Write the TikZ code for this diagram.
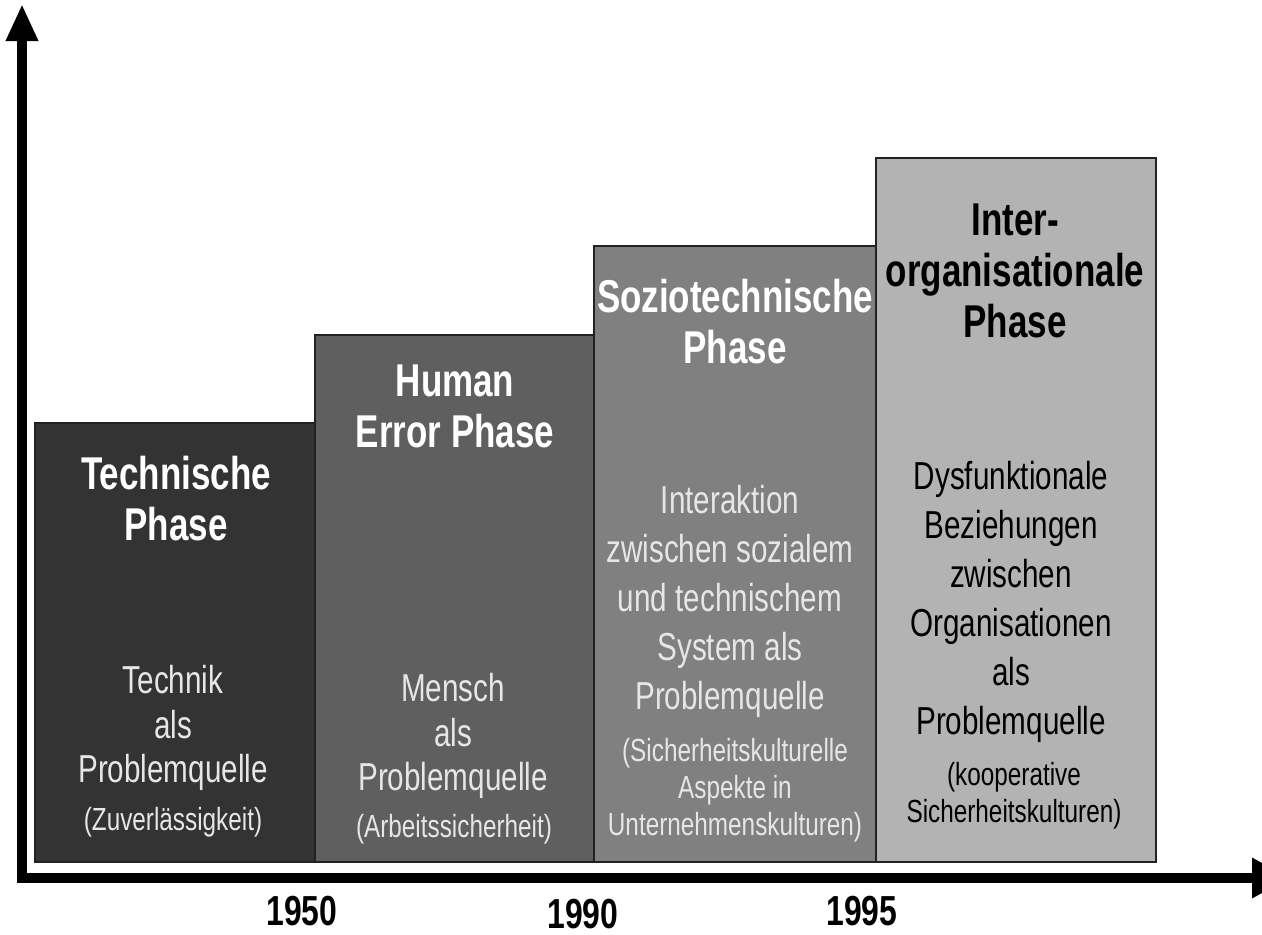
\documentclass[tikz,border=0pt]{standalone}
\usepackage{fontspec}
\setmainfont{Liberation Sans}[FakeStretch=0.76]
\usetikzlibrary{arrows.meta}
\definecolor{cA}{HTML}{333333}
\definecolor{cB}{HTML}{5F5F5F}
\definecolor{cC}{HTML}{808080}
\definecolor{cD}{HTML}{B3B3B3}
\definecolor{lighttxt}{HTML}{E6E6E6}
\definecolor{edge}{HTML}{222222}
\tikzset{
  phasebox/.style={draw=edge, line width=1.8pt, inner sep=0pt, minimum width=#1},
  ttl/.style={font=\fontsize{46}{51}\selectfont\bfseries, align=center, inner sep=0pt},
  bodytxt/.style={font=\fontsize{39}{49}\selectfont, align=center, inner sep=0pt},
  bodytight/.style={font=\fontsize{39}{44.5}\selectfont, align=center, inner sep=0pt},
  smalltxt/.style={font=\fontsize{32}{37}\selectfont, align=center, inner sep=0pt},
  yeartxt/.style={font=\fontsize{42}{46}\selectfont\bfseries, inner sep=0pt},
  axisline/.style={line width=10pt, line join=miter}
}
\begin{document}
\begin{tikzpicture}[x=1pt,y=-1pt]
\useasboundingbox (0,0) rectangle (1262,935);
% boxes
\node[phasebox=280pt, fill=cA, minimum height=439pt] (b1) at (175,642.5) {};
\node[phasebox=279pt, fill=cB, minimum height=527pt] (b2) at (454.5,598.5) {};
\node[phasebox=282pt, fill=cC, minimum height=616pt] (b3) at (735,554) {};
\node[phasebox=280pt, fill=cD, minimum height=704pt] (b4) at (1016,510) {};
% axes
\coordinate (ytip) at (22,4);
\coordinate (origin) at (22,878);
\coordinate (xtip) at (1290,878);
\draw[axisline, {Triangle[length=37pt,width=30pt]}-{Triangle[length=38pt,width=38pt]}] (ytip) -- (origin) -- (xtip);
% box 1
\node[ttl, text=white] (t1) at (176,499) {Technische\\Phase};
\node[bodytight, text=lighttxt] (m1) at (173,728) {Technik\\als\\Problemquelle};
\node[smalltxt, text=lighttxt] (s1) at (173,822) {(Zuverlässigkeit)};
% box 2
\node[ttl, text=white] (t2) at (455,406) {Human\\Error Phase};
\node[bodytight, text=lighttxt] (m2) at (453,736) {Mensch\\als\\Problemquelle};
\node[smalltxt, text=lighttxt] (s2) at (454,829) {(Arbeitssicherheit)};
% box 3
\node[ttl, text=white] (t3) at (735,322) {Soziotechnische\\Phase};
\node[bodytxt, text=lighttxt] (m3) at (730,601) {Interaktion\\zwischen sozialem\\und technischem\\System als\\Problemquelle};
\node[smalltxt, text=lighttxt] (s3) at (735,790) {(Sicherheitskulturelle\\Aspekte in\\Unternehmenskulturen)};
% box 4
\node[ttl, text=black] (t4) at (1015,271) {Inter-\\organisationale\\Phase};
\node[bodytxt, text=black] (m4) at (1011,602) {Dysfunktionale\\Beziehungen\\zwischen\\Organisationen\\als\\Problemquelle};
\node[smalltxt, text=black] (s4) at (1014,796) {(kooperative\\Sicherheitskulturen)};
% years
\node[yeartxt] (y1) at (302,911) {1950};
\node[yeartxt] (y2) at (583,914) {1990};
\node[yeartxt] (y3) at (862,911) {1995};
\end{tikzpicture}
\end{document}
